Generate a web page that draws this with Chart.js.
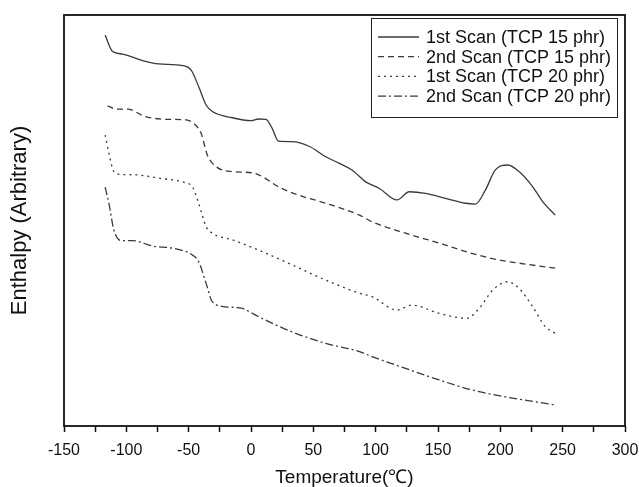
<!DOCTYPE html>
<html lang="en">
<head>
  <meta charset="UTF-8">
  <title>Enthalpy vs Temperature</title>
  <script src="https://cdn.jsdelivr.net/npm/chart.js"></script>
  <style>
    html, body { margin: 0; padding: 0; background: #fff; }
    .wrap { width: 639px; height: 487px; position: relative; }
  </style>
</head>
<body>
<div class="wrap"><canvas id="dscChart"></canvas></div>
<script>
// series data (temperature in degC, enthalpy in arbitrary units)
const scan1T15 = [-117,-111,-103,-87,-74,-55,-48,-42,-36,-31,-15,0,6,12,17,22,33,47,60,71,81,92,103,117,127,140,156,172,180,188,196,206,215,226,234,244];
const scan1V15 = [95.1,91.1,90.5,88.9,88.1,87.7,86.6,82.6,78.1,76.5,75.0,74.3,74.7,74.6,72.4,69.3,69.2,68.0,65.5,63.9,62.3,59.4,57.8,55.0,57.0,56.6,55.4,54.2,54.0,57.4,62.3,63.5,61.9,58.2,54.6,51.3];

const scan2T15 = [-115,-108,-99,-85,-66,-52,-46,-40,-35,-28,-15,1,9,22,38,60,87,97,124,151,177,199,220,244];
const scan2V15 = [77.9,77.1,77.1,75.3,74.6,74.5,73.6,71.2,65.9,63.1,61.9,61.6,60.7,58.2,56.2,54.2,51.3,49.7,46.9,44.5,42.0,40.4,39.4,38.4];

const scan1T20 = [-117,-114,-110,-104,-92,-74,-52,-47,-42,-36,-31,-15,6,33,60,87,97,117,129,151,173,183,194,206,215,226,236,245];
const scan1V20 = [70.8,66.4,61.9,61.2,61.1,60.3,59.1,58.2,54.2,48.5,46.9,45.3,42.8,39.2,35.5,32.3,31.5,28.2,29.4,27.4,26.2,28.6,33.1,35.1,33.5,29.0,24.2,22.4];

const scan2T20 = [-117,-114,-110,-104,-95,-79,-60,-47,-42,-36,-31,-20,-7,6,33,60,87,97,124,151,177,204,244];
const scan2V20 = [58.1,54.2,47.7,45.1,45.1,43.8,43.1,41.6,40.0,34.7,30.2,29.0,28.6,26.6,22.9,20.1,18.1,16.9,14.0,11.2,8.8,7.1,5.1];

const seriesLabels = ['1st Scan (TCP 15 phr)', '2nd Scan (TCP 15 phr)', '1st Scan (TCP 20 phr)', '2nd Scan (TCP 20 phr)'];
const xTicks = [-150, -100, -50, 0, 50, 100, 150, 200, 250, 300];

const FONT = '"Liberation Sans", Arial, sans-serif';
const INK = '#111';
const LINE = '#3a3a3a';

function pts(xs, ys) {
    return xs.map((x, i) => ({ x: x, y: ys[i] }));
}

// box around the plot + legend in the upper right corner
const framePlugin = {
    id: 'frame',
    afterDraw(chart) {
        const { ctx, chartArea: a } = chart;
        ctx.save();
        ctx.strokeStyle = INK;
        ctx.lineWidth = 1.8;
        ctx.strokeRect(a.left, a.top, a.right - a.left, a.bottom - a.top);

        // legend
        const bx = 371, by = 18, bw = 246, bh = 99;
        ctx.lineWidth = 1;
        ctx.strokeStyle = '#222';
        ctx.strokeRect(bx + 0.5, by + 0.5, bw, bh);
        ctx.font = '18px ' + FONT;
        ctx.textBaseline = 'middle';
        chart.data.datasets.forEach((ds, i) => {
            const y = by + 19 + i * 19.7;
            ctx.strokeStyle = ds.borderColor;
            ctx.lineWidth = ds.borderWidth;
            ctx.setLineDash(ds.borderDash || []);
            ctx.beginPath();
            ctx.moveTo(bx + 7, y);
            ctx.lineTo(bx + 48, y);
            ctx.stroke();
            ctx.setLineDash([]);
            ctx.fillStyle = INK;
            ctx.fillText(ds.label, bx + 55, y + 1);
        });
        ctx.restore();
    }
};

const styles = [
    { dash: [] },
    { dash: [6, 4] },
    { dash: [2, 4] },
    { dash: [8, 3, 2, 3] }
];
const seriesData = [pts(scan1T15, scan1V15), pts(scan2T15, scan2V15), pts(scan1T20, scan1V20), pts(scan2T20, scan2V20)];

new Chart(document.getElementById('dscChart'), {
    type: 'line',
    data: {
        datasets: seriesData.map((d, i) => ({
            label: seriesLabels[i],
            data: d,
            borderColor: LINE,
            borderWidth: 1.3,
            borderDash: styles[i].dash,
            pointRadius: 0,
            cubicInterpolationMode: 'monotone',
            fill: false
        }))
    },
    options: {
        responsive: true,
        maintainAspectRatio: false,
        animation: false,
        layout: { padding: { top: 15, right: 14, left: 0, bottom: 0 } },
        plugins: { legend: { display: false }, tooltip: { enabled: false } },
        scales: {
            x: {
                type: 'linear',
                min: -150,
                max: 300,
                afterFit(s) {
                    s.height = 61;
                    // keep the end labels from squeezing the plot
                    s.paddingLeft = 0;
                    s.paddingRight = 0;
                },
                afterBuildTicks(s) {
                    // majors every 50 with labels, minors halfway between
                    const t = [];
                    for (let v = xTicks[0]; v <= xTicks[xTicks.length - 1]; v += 25) t.push({ value: v });
                    s.ticks = t;
                },
                ticks: {
                    autoSkip: false,
                    maxRotation: 0,
                    padding: 9,
                    color: INK,
                    font: { family: FONT, size: 16 },
                    callback: v => (xTicks.includes(v) ? String(v) : '')
                },
                grid: {
                    drawOnChartArea: false,
                    drawTicks: true,
                    tickLength: 6,
                    tickColor: INK,
                    tickWidth: 1.5
                },
                border: { display: false },
                title: {
                    display: true,
                    text: 'Temperature(\u2103)',
                    color: INK,
                    font: { family: FONT, size: 19, lineHeight: 1.0 },
                    padding: { top: 0, bottom: 0 }
                }
            },
            y: {
                min: 0,
                max: 100,
                afterFit(s) { s.width = 64; },
                ticks: { display: false },
                grid: { display: false },
                border: { display: false },
                title: {
                    display: true,
                    text: 'Enthalpy (Arbitrary)',
                    color: INK,
                    font: { family: FONT, size: 22 },
                    padding: { top: 7, bottom: 0 }
                }
            }
        }
    },
    plugins: [framePlugin]
});
</script>
</body>
</html>
